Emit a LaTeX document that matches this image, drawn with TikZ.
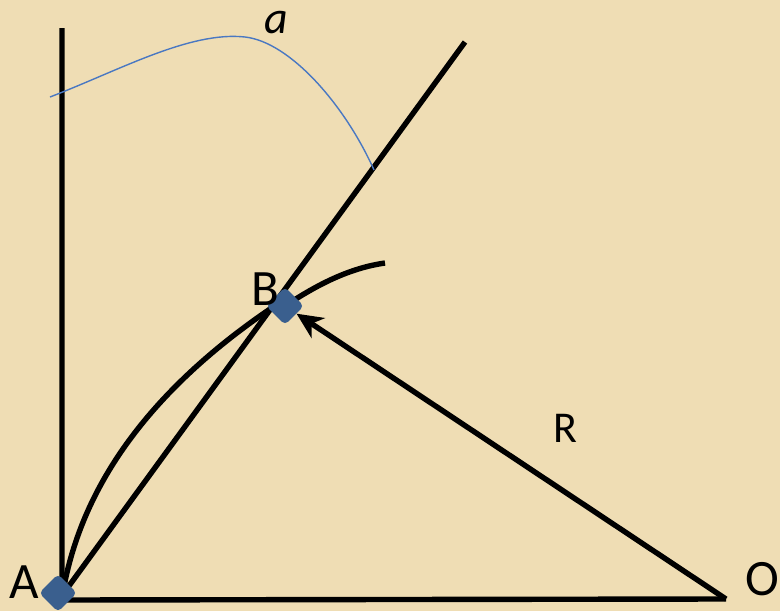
\documentclass[tikz,border=0pt]{standalone}
\usepackage{fontspec}
\setmainfont{Carlito}
\usetikzlibrary{arrows.meta,shapes.geometric,backgrounds}
\definecolor{parch}{HTML}{EFDDB4}
\definecolor{ptblue}{HTML}{3A5F8E}
\definecolor{arcblue}{HTML}{4A78C2}
\tikzset{
  heavy/.style={line width=5.4pt, black},
  ptdot/.style={diamond, fill=ptblue, minimum size=38pt, inner sep=0pt, rounded corners=4.5pt},
  biglbl/.style={font=\fontsize{51}{60}\selectfont, inner sep=0pt},
  midlbl/.style={font=\fontsize{44}{52}\selectfont, inner sep=0pt},
}
\begin{document}
\begin{tikzpicture}[x=1pt,y=-1pt]
\useasboundingbox (0,0) rectangle (780,611);
\begin{scope}[on background layer]
\fill[parch] (0,0) rectangle (780,611);
\end{scope}
% points
\node[ptdot] (A) at (58,593) {};
\node[ptdot] (B) at (285,306) {};
\coordinate (Ac) at (63,592);
\coordinate (Al) at (66,590);
\coordinate (Bl) at (273,307);
\coordinate (top) at (62,28);
\coordinate (corner) at (62,600);
\coordinate (O) at (726,599);
\coordinate (T) at (465,42);
\coordinate (E) at (385,263);
\coordinate (bs) at (50,97);
\coordinate (bm) at (245,37);
\coordinate (be) at (374,170);
\begin{scope}[on background layer]
\draw[heavy] (top) -- (corner) -- (O);
\draw[heavy] (Al) -- (T);
\draw[heavy] (Ac) .. controls (82,483) and (153,388) .. (Bl);
\draw[heavy] (B.center) .. controls (318,284) and (350,268) .. (E);
\draw[arcblue, line width=1.4pt] (bs) .. controls (120,70) and (190,31) .. (bm)
  .. controls (290,42) and (345,105) .. (be);
\end{scope}
\draw[heavy, -{Stealth[length=26pt,width=24pt,inset=8pt]}] (O) -- (B);
% labels
\node[biglbl] (lA) at (24,582) {A};
\node[biglbl] (lB) at (265,289) {B};
\node[biglbl] (lO) at (762,579) {O};
\node[midlbl] (lR) at (565,428) {R};
\node[midlbl, font=\fontsize{46}{54}\selectfont\itshape] (la) at (276,23) {a};
\end{tikzpicture}
\end{document}
